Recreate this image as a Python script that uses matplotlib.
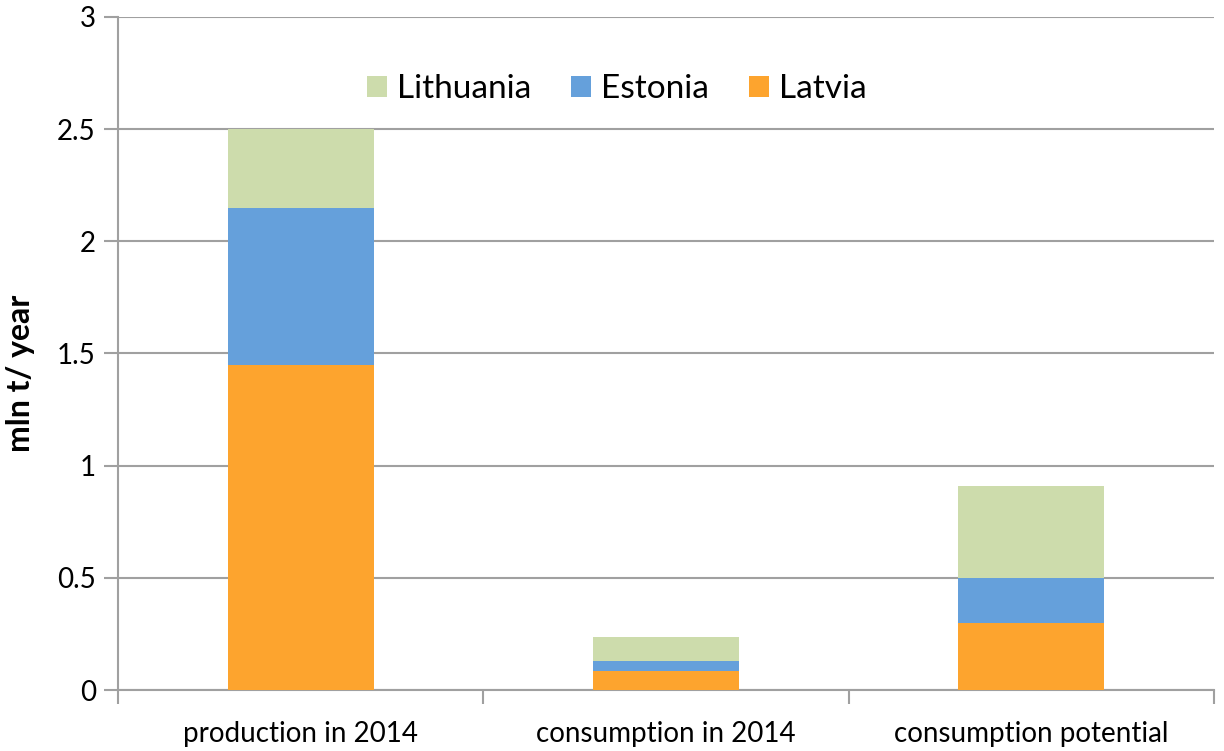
import matplotlib
matplotlib.use('Agg')
import matplotlib.pyplot as plt
import numpy as np

# ── Data ──────────────────────────────────────────────────────────
categories = ['production in 2014', 'consumption in 2014', 'consumption potential']
latvia     = [1.45, 0.085, 0.30]
estonia    = [0.70, 0.045, 0.20]
lithuania  = [0.35, 0.105, 0.41]
yticks     = [0, 0.5, 1, 1.5, 2, 2.5, 3]
ytick_lbls = ['0', '0.5', '1', '1.5', '2', '2.5', '3']

COLORS = {'Latvia': '#FDA42E', 'Estonia': '#65A0DB', 'Lithuania': '#CDDCAC'}
GRID = '#A0A0A0'

plt.rcParams['font.family'] = ['Lato', 'DejaVu Sans']

fig = plt.figure(figsize=(12.24, 7.51), dpi=100)
ax = fig.add_axes([0.0964, 0.0812, 0.8954, 0.8962])

x = np.arange(len(categories))
w = 0.4
b_lat = ax.bar(x, latvia, w, color=COLORS['Latvia'], label='Latvia', zorder=3)
bottom = np.array(latvia)
b_est = ax.bar(x, estonia, w, bottom=bottom, color=COLORS['Estonia'], label='Estonia', zorder=3)
bottom = bottom + np.array(estonia)
b_lit = ax.bar(x, lithuania, w, bottom=bottom, color=COLORS['Lithuania'], label='Lithuania', zorder=3)

ax.set_xlim(-0.5, len(categories) - 0.5)
ax.set_ylim(0, 3)
ax.set_yticks(yticks)
ax.set_yticklabels(ytick_lbls, fontsize=20)
ax.yaxis.grid(True, color=GRID, linewidth=1.5, zorder=0)
ax.tick_params(axis='y', length=10, width=1.5, color=GRID, pad=6)

# category labels between separator ticks
ax.set_xticks(x)
ax.set_xticklabels(categories, fontsize=20)
ax.tick_params(axis='x', length=0, pad=22)
ax.set_xticks(np.arange(len(categories) + 1) - 0.5, minor=True)
ax.tick_params(axis='x', which='minor', length=10, width=1.5, color=GRID)

for side in ['top', 'right']:
    ax.spines[side].set_visible(False)
for side in ['left', 'bottom']:
    ax.spines[side].set_color(GRID)
    ax.spines[side].set_linewidth(1.5)

ax.set_ylabel('mln t/ year', fontsize=23, fontweight='bold')
ax.yaxis.set_label_coords(-0.076, 0.47)

ax.legend(handles=[b_lit, b_est, b_lat], loc='center', bbox_to_anchor=(0.455, 0.893),
          ncol=3, frameon=False, fontsize=24, handlelength=0.6, handleheight=0.6,
          handletextpad=0.3, columnspacing=1.2)

plt.savefig('out.png', dpi=100)
plt.close()
